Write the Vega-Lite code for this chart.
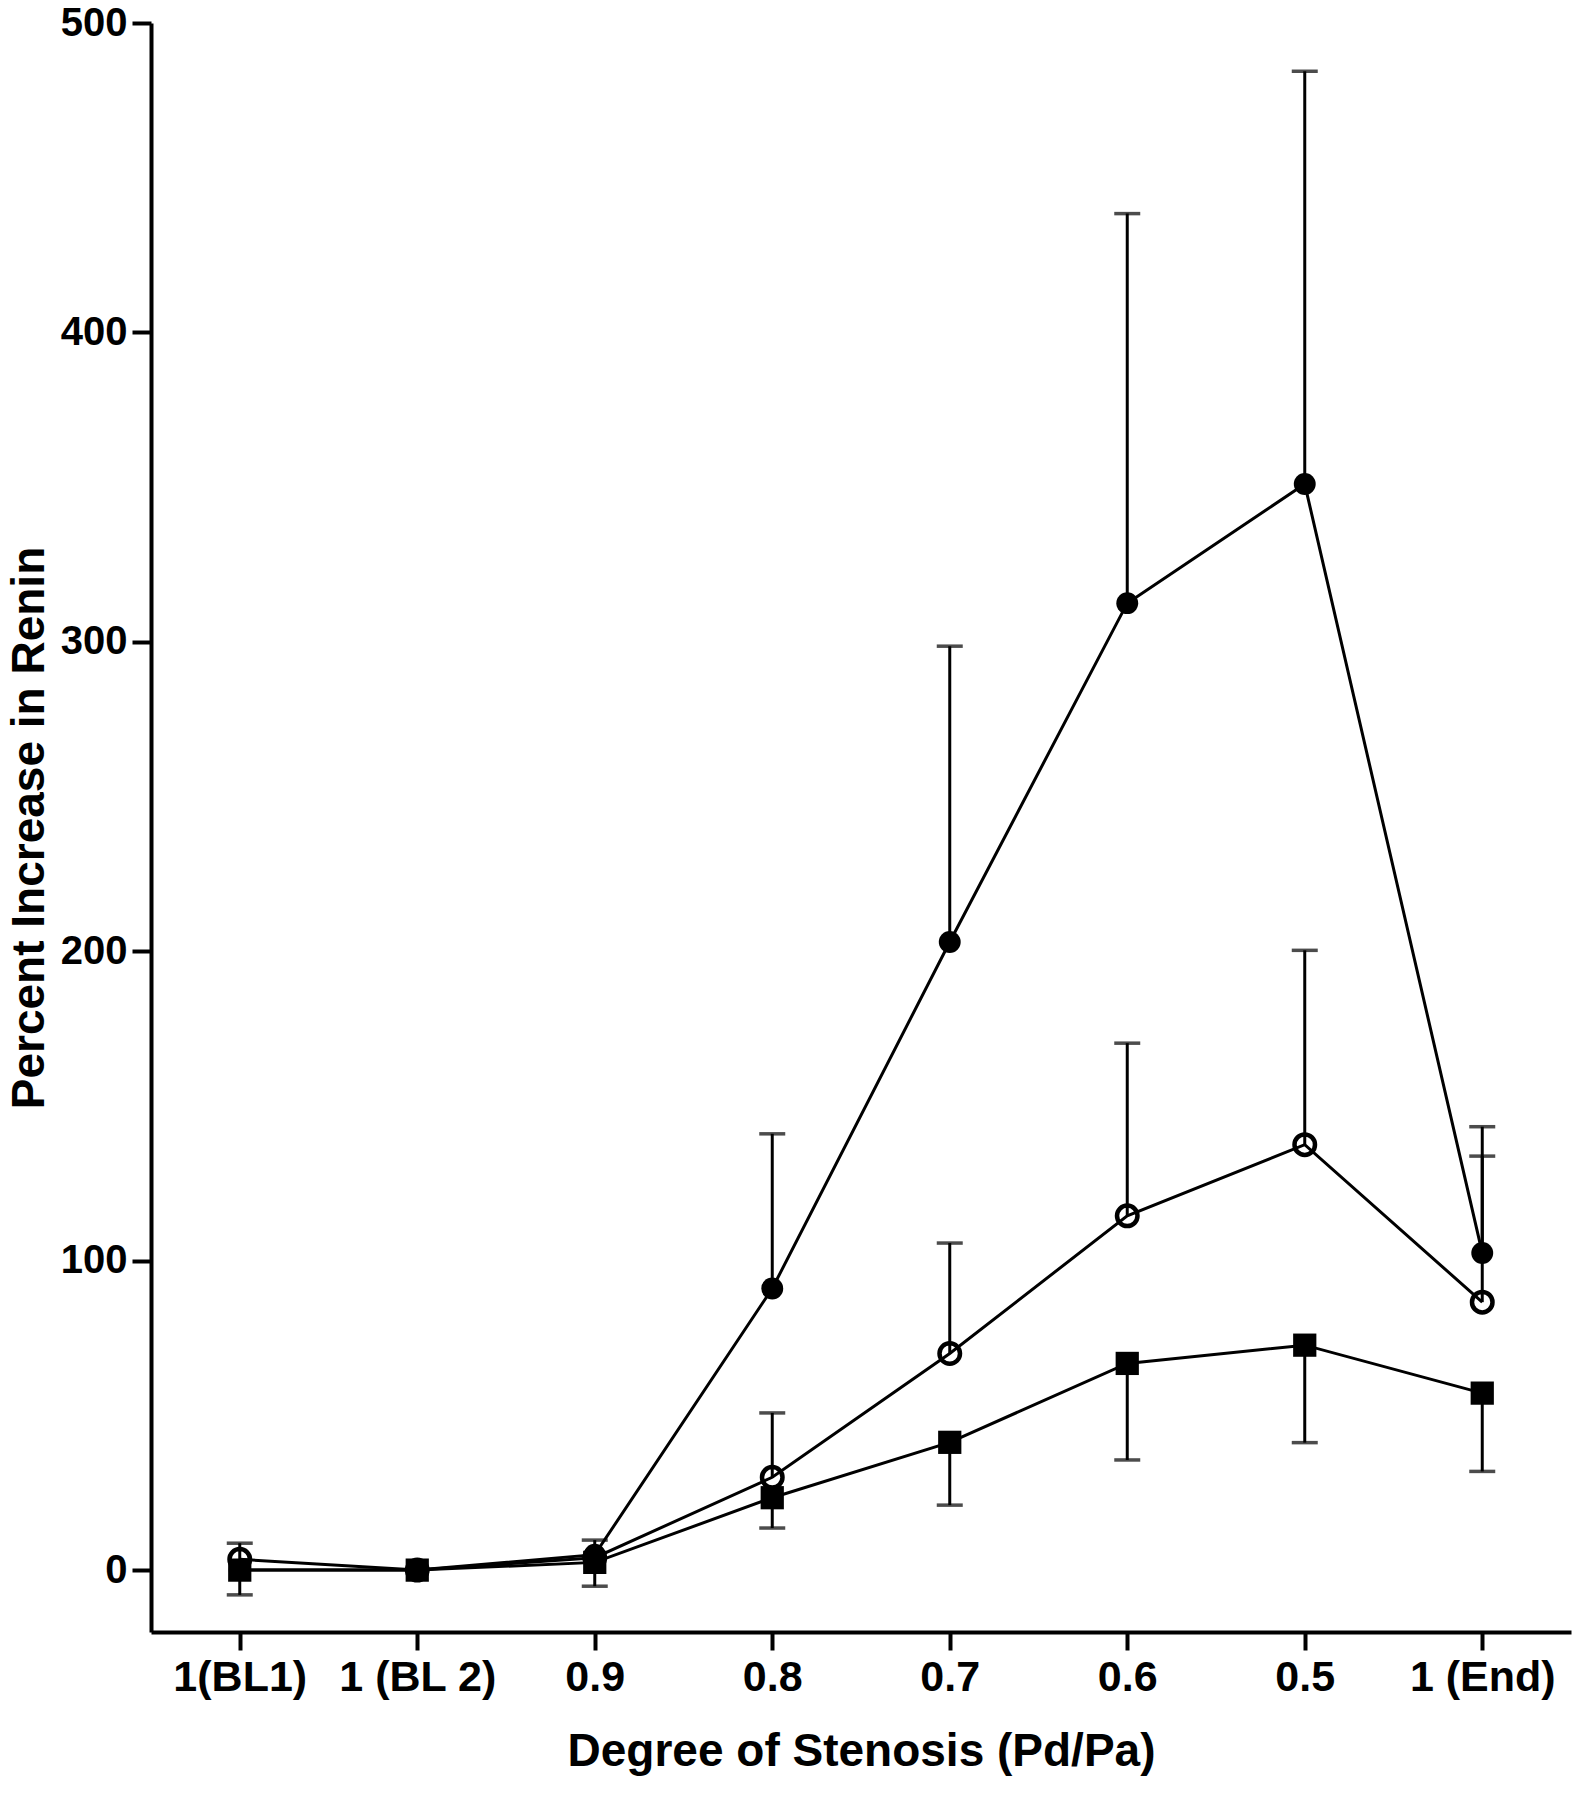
{
  "$schema": "https://vega.github.io/schema/vega-lite/v6.json",
  "autosize": {"type": "none"},
  "padding": {"left": 151, "top": 23, "right": 3, "bottom": 168},
  "width": 1420,
  "height": 1609,
  "background": "white",
  "config": {
    "view": {"stroke": null},
    "font": "Liberation Sans",
    "axis": {
      "domainColor": "black", "domainWidth": 4, "tickColor": "black", "tickWidth": 4,
      "labelColor": "black", "labelFont": "Liberation Sans", "labelFontWeight": "bold",
      "titleColor": "black", "titleFont": "Liberation Sans", "titleFontWeight": "bold",
      "grid": false
    }
  },
  "datasets": {
    "points": [
      {"stage": "1(BL1)", "series": "filled", "value": 0},
      {"stage": "1 (BL 2)", "series": "filled", "value": 0},
      {"stage": "0.9", "series": "filled", "value": 5},
      {"stage": "0.8", "series": "filled", "value": 91},
      {"stage": "0.7", "series": "filled", "value": 203},
      {"stage": "0.6", "series": "filled", "value": 312.5},
      {"stage": "0.5", "series": "filled", "value": 351},
      {"stage": "1 (End)", "series": "filled", "value": 102.5},
      {"stage": "1(BL1)", "series": "open", "value": 3.5},
      {"stage": "1 (BL 2)", "series": "open", "value": 0},
      {"stage": "0.9", "series": "open", "value": 4},
      {"stage": "0.8", "series": "open", "value": 30},
      {"stage": "0.7", "series": "open", "value": 70},
      {"stage": "0.6", "series": "open", "value": 114.5},
      {"stage": "0.5", "series": "open", "value": 137.5},
      {"stage": "1 (End)", "series": "open", "value": 86.6},
      {"stage": "1(BL1)", "series": "square", "value": 0},
      {"stage": "1 (BL 2)", "series": "square", "value": 0},
      {"stage": "0.9", "series": "square", "value": 2.5},
      {"stage": "0.8", "series": "square", "value": 23.4},
      {"stage": "0.7", "series": "square", "value": 41.3},
      {"stage": "0.6", "series": "square", "value": 66.8},
      {"stage": "0.5", "series": "square", "value": 72.7},
      {"stage": "1 (End)", "series": "square", "value": 57.2}
    ],
    "errors": [
      {"stage": "0.9", "series": "filled", "value": 5, "end": 9.7},
      {"stage": "0.8", "series": "filled", "value": 91, "end": 141},
      {"stage": "0.7", "series": "filled", "value": 203, "end": 298.6},
      {"stage": "0.6", "series": "filled", "value": 312.5, "end": 438.4},
      {"stage": "0.5", "series": "filled", "value": 351, "end": 484.4},
      {"stage": "1 (End)", "series": "filled", "value": 102.5, "end": 143.3},
      {"stage": "1(BL1)", "series": "open", "value": 3.5, "end": 8.7},
      {"stage": "0.8", "series": "open", "value": 30, "end": 50.8},
      {"stage": "0.7", "series": "open", "value": 70, "end": 105.7},
      {"stage": "0.6", "series": "open", "value": 114.5, "end": 170.3},
      {"stage": "0.5", "series": "open", "value": 137.5, "end": 200.3},
      {"stage": "1 (End)", "series": "open", "value": 86.6, "end": 133.8},
      {"stage": "1(BL1)", "series": "square", "value": 0, "end": -8},
      {"stage": "0.9", "series": "square", "value": 2.5, "end": -5.2},
      {"stage": "0.8", "series": "square", "value": 23.4, "end": 13.6},
      {"stage": "0.7", "series": "square", "value": 41.3, "end": 21},
      {"stage": "0.6", "series": "square", "value": 66.8, "end": 35.6},
      {"stage": "0.5", "series": "square", "value": 72.7, "end": 41.2},
      {"stage": "1 (End)", "series": "square", "value": 57.2, "end": 31.9}
    ]
  },
  "encoding": {
    "x": {
      "field": "stage", "type": "ordinal",
      "sort": ["1(BL1)", "1 (BL 2)", "0.9", "0.8", "0.7", "0.6", "0.5", "1 (End)"],
      "scale": {"type": "point", "padding": 0.5},
      "axis": {
        "title": "Degree of Stenosis (Pd/Pa)", "titleFontSize": 46, "titlePadding": 30,
        "labelFontSize": 43, "labelAngle": 0, "tickSize": 18, "labelPadding": 6
      }
    },
    "y": {
      "field": "value", "type": "quantitative",
      "scale": {"domain": [-20, 500], "nice": false, "zero": false},
      "axis": {
        "title": "Percent Increase in Renin", "titleFontSize": 46, "titlePadding": 7,
        "labelFontSize": 40, "values": [0, 100, 200, 300, 400, 500],
        "tickSize": 19, "labelPadding": 5
      }
    }
  },
  "layer": [
    {
      "data": {"name": "points"},
      "mark": {"type": "line", "color": "black", "strokeWidth": 3},
      "encoding": {"detail": {"field": "series"}}
    },
    {
      "data": {"name": "errors"},
      "mark": {"type": "rule", "color": "black", "strokeWidth": 3},
      "encoding": {"y2": {"field": "end"}}
    },
    {
      "data": {"name": "errors"},
      "mark": {"type": "tick", "color": "black", "orient": "horizontal", "size": 26, "thickness": 3.5},
      "encoding": {"y": {"field": "end", "type": "quantitative"}}
    },
    {
      "data": {"name": "points"},
      "transform": [{"filter": "datum.series === 'square'"}],
      "mark": {"type": "point", "shape": "square", "filled": true, "color": "black", "size": 540, "opacity": 1}
    },
    {
      "data": {"name": "points"},
      "transform": [{"filter": "datum.series === 'filled'"}],
      "mark": {"type": "point", "shape": "circle", "filled": true, "color": "black", "size": 480, "opacity": 1}
    },
    {
      "data": {"name": "points"},
      "transform": [{"filter": "datum.series === 'open'"}],
      "mark": {"type": "point", "shape": "circle", "filled": false, "color": "black", "strokeWidth": 4.5, "size": 420, "opacity": 1}
    }
  ]
}
